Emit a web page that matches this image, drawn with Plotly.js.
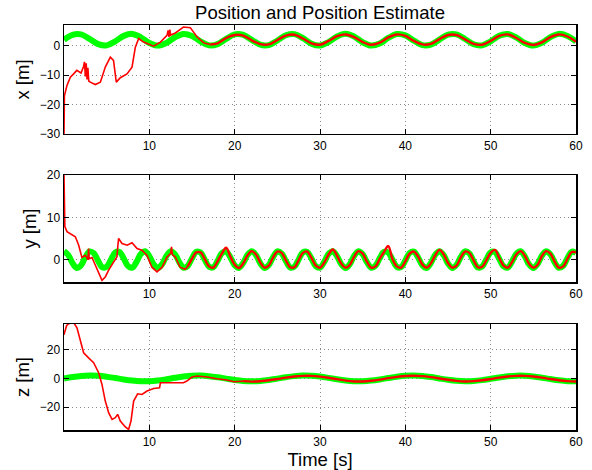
<!DOCTYPE html>
<html>
<head>
<meta charset="utf-8">
<script src="https://cdn.plot.ly/plotly-3.0.1.min.js"></script>
<style>html,body{margin:0;padding:0;background:#fff;}#chart{width:592px;height:470px;}</style>
</head>
<body>
<div id="chart"></div>
<script>
// ---- True position (green) ----
const xTrueT = [0,1,2,3,4,5,6,7,8,9,10,11,12,13,14,15,16,17,18,19,20,21,22,23,24,25,26,27,28,29,30,31,32,33,34,35,36,37,38,39,40,41,42,43,44,45,46,47,48,49,50,51,52,53,54,55,56,57,58,59,60];
const xTrue = [2.0,3.68,3.82,2.28,0.49,0.08,1.44,3.31,3.98,2.82,0.91,0.0,0.93,2.84,3.98,3.30,1.42,0.08,0.50,2.30,3.83,3.67,1.98,0.31,0.19,1.74,3.53,3.91,2.54,0.67,0.02,1.19,3.10,4.0,3.06,1.14,0.02,0.71,2.59,3.93,3.49,1.68,0.17,0.34,2.04,3.70,3.80,2.25,0.46,0.09,1.48,3.34,3.97,2.79,0.88,0.0,0.96,2.87,3.99,3.27,1.39];

const yTrueT = [0,0.5,1,1.5,2,2.5,3,3.5,4,4.5,5,5.5,6,6.5,7,7.5,8,8.5,9,9.5,10,10.5,11,11.5,12,12.5,13,13.5,14,14.5,15,15.5,16,16.5,17,17.5,18,18.5,19,19.5,20,20.5,21,21.5,22,22.5,23,23.5,24,24.5,25,25.5,26,26.5,27,27.5,28,28.5,29,29.5,30,30.5,31,31.5,32,32.5,33,33.5,34,34.5,35,35.5,36,36.5,37,37.5,38,38.5,39,39.5,40,40.5,41,41.5,42,42.5,43,43.5,44,44.5,45,45.5,46,46.5,47,47.5,48,48.5,49,49.5,50,50.5,51,51.5,52,52.5,53,53.5,54,54.5,55,55.5,56,56.5,57,57.5,58,58.5,59,59.5,60];
const yTrue = [2.00,1.08,-0.83,-1.98,-1.31,0.57,1.92,1.51,-0.29,-1.82,-1.68,0.01,1.69,1.81,0.27,-1.52,-1.92,-0.55,1.32,1.98,0.82,-1.10,-2.00,-1.07,0.85,1.98,1.29,-0.58,-1.93,-1.50,0.31,1.83,1.67,-0.03,-1.70,-1.81,-0.26,1.53,1.91,0.53,-1.33,-1.97,-0.80,1.11,2.00,1.05,-0.86,-1.98,-1.28,0.60,1.93,1.48,-0.33,-1.84,-1.66,0.04,1.71,1.80,0.24,-1.54,-1.90,-0.52,1.35,1.97,0.78,-1.12,-2.00,-1.04,0.88,1.99,1.27,-0.62,-1.93,-1.47,0.34,1.84,1.65,-0.06,-1.71,-1.79,-0.22,1.55,1.90,0.50,-1.36,-1.97,-0.77,1.14,2.00,1.02,-0.90,-1.99,-1.25,0.64,1.94,1.46,-0.36,-1.85,-1.64,0.08,1.72,1.79,0.20,-1.56,-1.89,-0.48,1.37,1.97,0.75,-1.15,-2.00,-1.01,0.91,1.99,1.24,-0.65,-1.94,-1.45,0.38,1.86,1.63];

const zTrueT = xTrueT;
const zTrue = [0,0.96,1.68,1.99,1.82,1.20,0.28,-0.70,-1.51,-1.96,-1.92,-1.41,-0.56,0.43,1.31,1.88,1.98,1.60,0.82,-0.15,-1.09,-1.76,-2.0,-1.75,-1.07,-0.13,0.84,1.61,1.98,1.87,1.30,0.41,-0.58,-1.42,-1.92,-1.96,-1.50,-0.68,0.30,1.21,1.83,1.99,1.67,0.94,-0.02,-0.97,-1.69,-2.0,-1.81,-1.18,-0.26,0.72,1.53,1.96,1.91,1.40,0.54,-0.45,-1.33,-1.89,-1.98];

// ---- Position estimate (red): transient part ----
const xEstT1 = [0,0.05,0.35,0.74,1.13,1.5,2.0,2.3,2.4,2.5,2.6,2.7,2.8,2.9,3.08,3.67,4.26,4.84,5.43,5.8,6.13,6.6,7.38,7.97,8.36,8.75,9.33,9.92,10.5,11.3,12.07,12.2,12.3,12.4,12.5,13.05,14.0,14.8,15.6,16.4,17.15];
const xEst1 = [-30,-17,-13.5,-10.7,-9.6,-8.4,-9.3,-7,-5.5,-10.5,-6,-11.5,-7.5,-12,-12.4,-13.2,-12.4,-7.3,-3.9,-5.0,-12.4,-10.9,-9.6,-7.3,-0.5,2.4,1.2,0.4,-0.2,1.2,3.5,5.2,3.0,5.4,3.6,4.3,6.3,6.1,2.9,0.9,0.4];
// tracking part
const xEstT2 = [17.15,18,19,20,21,22,23,24,25,26,27,28,29,30,31,32,33,34,35,36,37,38,39,40,41,42,43,44,45,46,47,48,49,50,51,52,53,54,55,56,57,58,59,60];
const xEst2 = [0.4,0.8,2.6,3.6,3.4,1.8,0.5,0.4,1.9,3.4,3.7,2.4,0.8,0.3,1.6,3.2,3.8,2.9,1.2,0.3,1.0,2.8,3.8,3.3,1.6,0.4,0.6,2.2,3.6,3.6,2.1,0.6,0.3,1.6,3.3,3.8,2.6,0.9,0.2,1.1,2.9,3.8,3.1,1.3];

const yEstT1 = [0,0.04,0.1,0.35,0.94,1.33,1.72,2.1,2.5,2.8,2.88,2.95,3.28,3.67,4.06,4.45,4.84,5.23,5.81,6.2,6.3,6.4,6.8,7.4,7.97,8.56,9.14,9.73,10.3,10.9,11.5,12.07,12.5,12.6,12.7,13.05,13.6,14.2,14.5];
const yEst1 = [20,8,7.8,6.6,5.8,5.4,3.4,0.5,1.0,0,2.6,0.2,0.5,-1.4,-2.9,-4.9,-4.1,-2.5,-0.6,0.6,3,5.0,3.8,3.4,4.0,2.6,2.2,1.0,-1.8,-2.9,-1.8,0.6,1.5,3.0,1.2,0.6,-1.8,-2.3,-1.6];
const yEstT2 = [14.5,15,15.5,16,16.5,17,17.5,18,18.5,19,19.5,20,20.5,21,21.5,22,22.5,23,23.5,24,24.5,25,25.5,26,26.5,27,27.5,28,28.5,29,29.5,30,30.5,31,31.5,32,32.5,33,33.5,34,34.5,35,35.5,36,36.5,37,37.5,38,38.5,39,39.5,40,40.5,41,41.5,42,42.5,43,43.5,44,44.5,45,45.5,46,46.5,47,47.5,48,48.5,49,49.5,50,50.5,51,51.5,52,52.5,53,53.5,54,54.5,55,55.5,56,56.5,57,57.5,58,58.5,59,59.5,60];
const yEst2 = [-1.6,0.2,1.7,1.7,0.1,-1.6,-1.9,-0.4,1.4,2.8,0.7,-1.2,-2.0,-0.9,1.0,2.0,1.2,-0.7,-1.9,-1.4,0.5,1.9,1.6,-0.2,-1.8,-1.8,-0.1,1.6,1.9,0.4,-1.4,-1.9,-0.7,1.2,2.4,0.9,-1.0,-1.9,-1.2,0.7,2.0,1.4,-0.5,-1.9,-1.6,0.2,1.8,3.2,0.1,-1.6,-1.9,-0.4,1.4,1.9,0.7,-1.2,-1.9,-0.9,1.0,2.3,1.2,-0.8,-1.9,-1.4,0.5,1.9,1.6,-0.2,-1.8,-1.7,-0.1,1.6,2.3,0.4,-1.4,-1.9,-0.6,1.2,2.0,0.9,-1.0,-1.9,-1.2,0.8,2.0,1.4,-0.5,-1.9,-1.6,0.2,1.8,1.7];

const zEstT1 = [0,0.3,0.54,1.13,1.52,1.91,2.3,2.88,3.47,4.06,4.45,4.84,5.23,5.63,6.01,6.29,6.6,7.19,7.57,7.85,8.16,8.63,9.14,9.73,10.5,11.2,11.3,12.46,14.0,14.4,15.0,15.6,16.8,17.9,19.1,19.9,21.0];
const zEst1 = [30.5,36.8,38.2,39,35.4,26.1,17.9,14.4,11.0,4.0,-4.2,-15.8,-23.9,-28.6,-27.4,-25.1,-29.7,-33.9,-35.6,-29.7,-15.8,-10.7,-11.2,-8.8,-7.0,-6.5,-3.0,-3.0,-3.0,-1.8,1.0,1.7,1.0,-0.2,-1.1,-2.3,-1.9];
const zEstT2 = [21,22,23,24,25,26,27,28,29,30,31,32,33,34,35,36,37,38,39,40,41,42,43,44,45,46,47,48,49,50,51,52,53,54,55,56,57,58,59,60];
const zEst2 = [-1.9,-2.2,-1.9,-1.3,-0.4,0.6,1.4,1.8,1.8,1.3,0.5,-0.5,-1.5,-2.1,-2.1,-1.6,-0.8,0.2,1.1,1.7,1.9,1.6,0.9,0.0,-0.9,-1.7,-2.1,-1.9,-1.3,-0.4,0.6,1.4,1.8,1.8,1.4,0.6,-0.4,-1.3,-1.9,-2.1];

// ---- Axis ticks / labels ----
const timeTicks = [10,20,30,40,50,60];
const xTicks = [-30,-20,-10,0];
const yTicks = [0,10,20];
const zTicks = [-20,0,20];
const chartTitle = 'Position and Position Estimate';
const xLabel = 'Time [s]';
const panelLabels = ['x [m]','y [m]','z [m]'];

const GREEN = '#00ff00', RED = '#ff0000';
function truth(t, v, xa, ya){ return {x:t, y:v, xaxis:xa, yaxis:ya, type:'scatter', mode:'lines', line:{color:GREEN, width:6, shape:'spline'}, hoverinfo:'skip', showlegend:false}; }
function estLin(t, v, xa, ya){ return {x:t, y:v, xaxis:xa, yaxis:ya, type:'scatter', mode:'lines', line:{color:RED, width:1.6}, showlegend:false}; }
function estSpl(t, v, xa, ya){ return {x:t, y:v, xaxis:xa, yaxis:ya, type:'scatter', mode:'lines', line:{color:RED, width:2.4, shape:'spline'}, showlegend:false}; }

const data = [
  truth(xTrueT, xTrue, 'x', 'y'), estLin(xEstT1, xEst1, 'x', 'y'), estSpl(xEstT2, xEst2, 'x', 'y'),
  truth(yTrueT, yTrue, 'x2', 'y2'), estLin(yEstT1, yEst1, 'x2', 'y2'), estSpl(yEstT2, yEst2, 'x2', 'y2'),
  truth(zTrueT, zTrue, 'x3', 'y3'), estLin(zEstT1, zEst1, 'x3', 'y3'), estSpl(zEstT2, zEst2, 'x3', 'y3')
];

const FONT = 'Liberation Sans, Arial, Helvetica, sans-serif';
const common = {showline:true, linecolor:'black', linewidth:1.5, mirror:'ticks', ticks:'inside', ticklen:5, tickcolor:'black', tickwidth:1,
  showgrid:true, gridcolor:'#8a8a8a', griddash:'1px,3px', gridwidth:1, zeroline:false, tickfont:{size:12, color:'black', family:FONT}, fixedrange:true};
function xax(anchor, title){ const a = Object.assign({}, common, {range:[0,60], tickvals:timeTicks, ticktext:timeTicks.map(String), anchor:anchor, domain:[0,1]}); if(title) a.title = {text:title, font:{size:18.5, family:FONT, color:'black'}, standoff:4}; return a; }
function yax(anchor, range, ticks, dom, title){ return Object.assign({}, common, {range:range, tickvals:ticks, anchor:anchor, domain:dom, title:{text:title, font:{size:18.5, family:FONT, color:'black'}, standoff:5}}); }

const layout = {
  width:592, height:470,
  margin:{l:64, r:16, t:25, b:40},
  paper_bgcolor:'white', plot_bgcolor:'white',
  font:{family:FONT, color:'black'},
  title:{text:chartTitle, font:{size:18.5, family:FONT, color:'black'}, x:0.5, xref:'paper', xanchor:'center', y:1-13/470, yref:'container', yanchor:'middle'},
  xaxis: xax('y'),
  xaxis2: xax('y2'),
  xaxis3: xax('y3', xLabel),
  yaxis: yax('x', [-30,7], xTicks, [0.7309,1], panelLabels[0]),
  yaxis2: yax('x2', [-5.3,20], yTicks, [0.3654,0.6296], panelLabels[1]),
  yaxis3: yax('x3', [-36,38], zTicks, [0,0.2617], panelLabels[2]),
  showlegend:false
};
Plotly.newPlot('chart', data, layout, {displayModeBar:false, staticPlot:true});
</script>
</body>
</html>
